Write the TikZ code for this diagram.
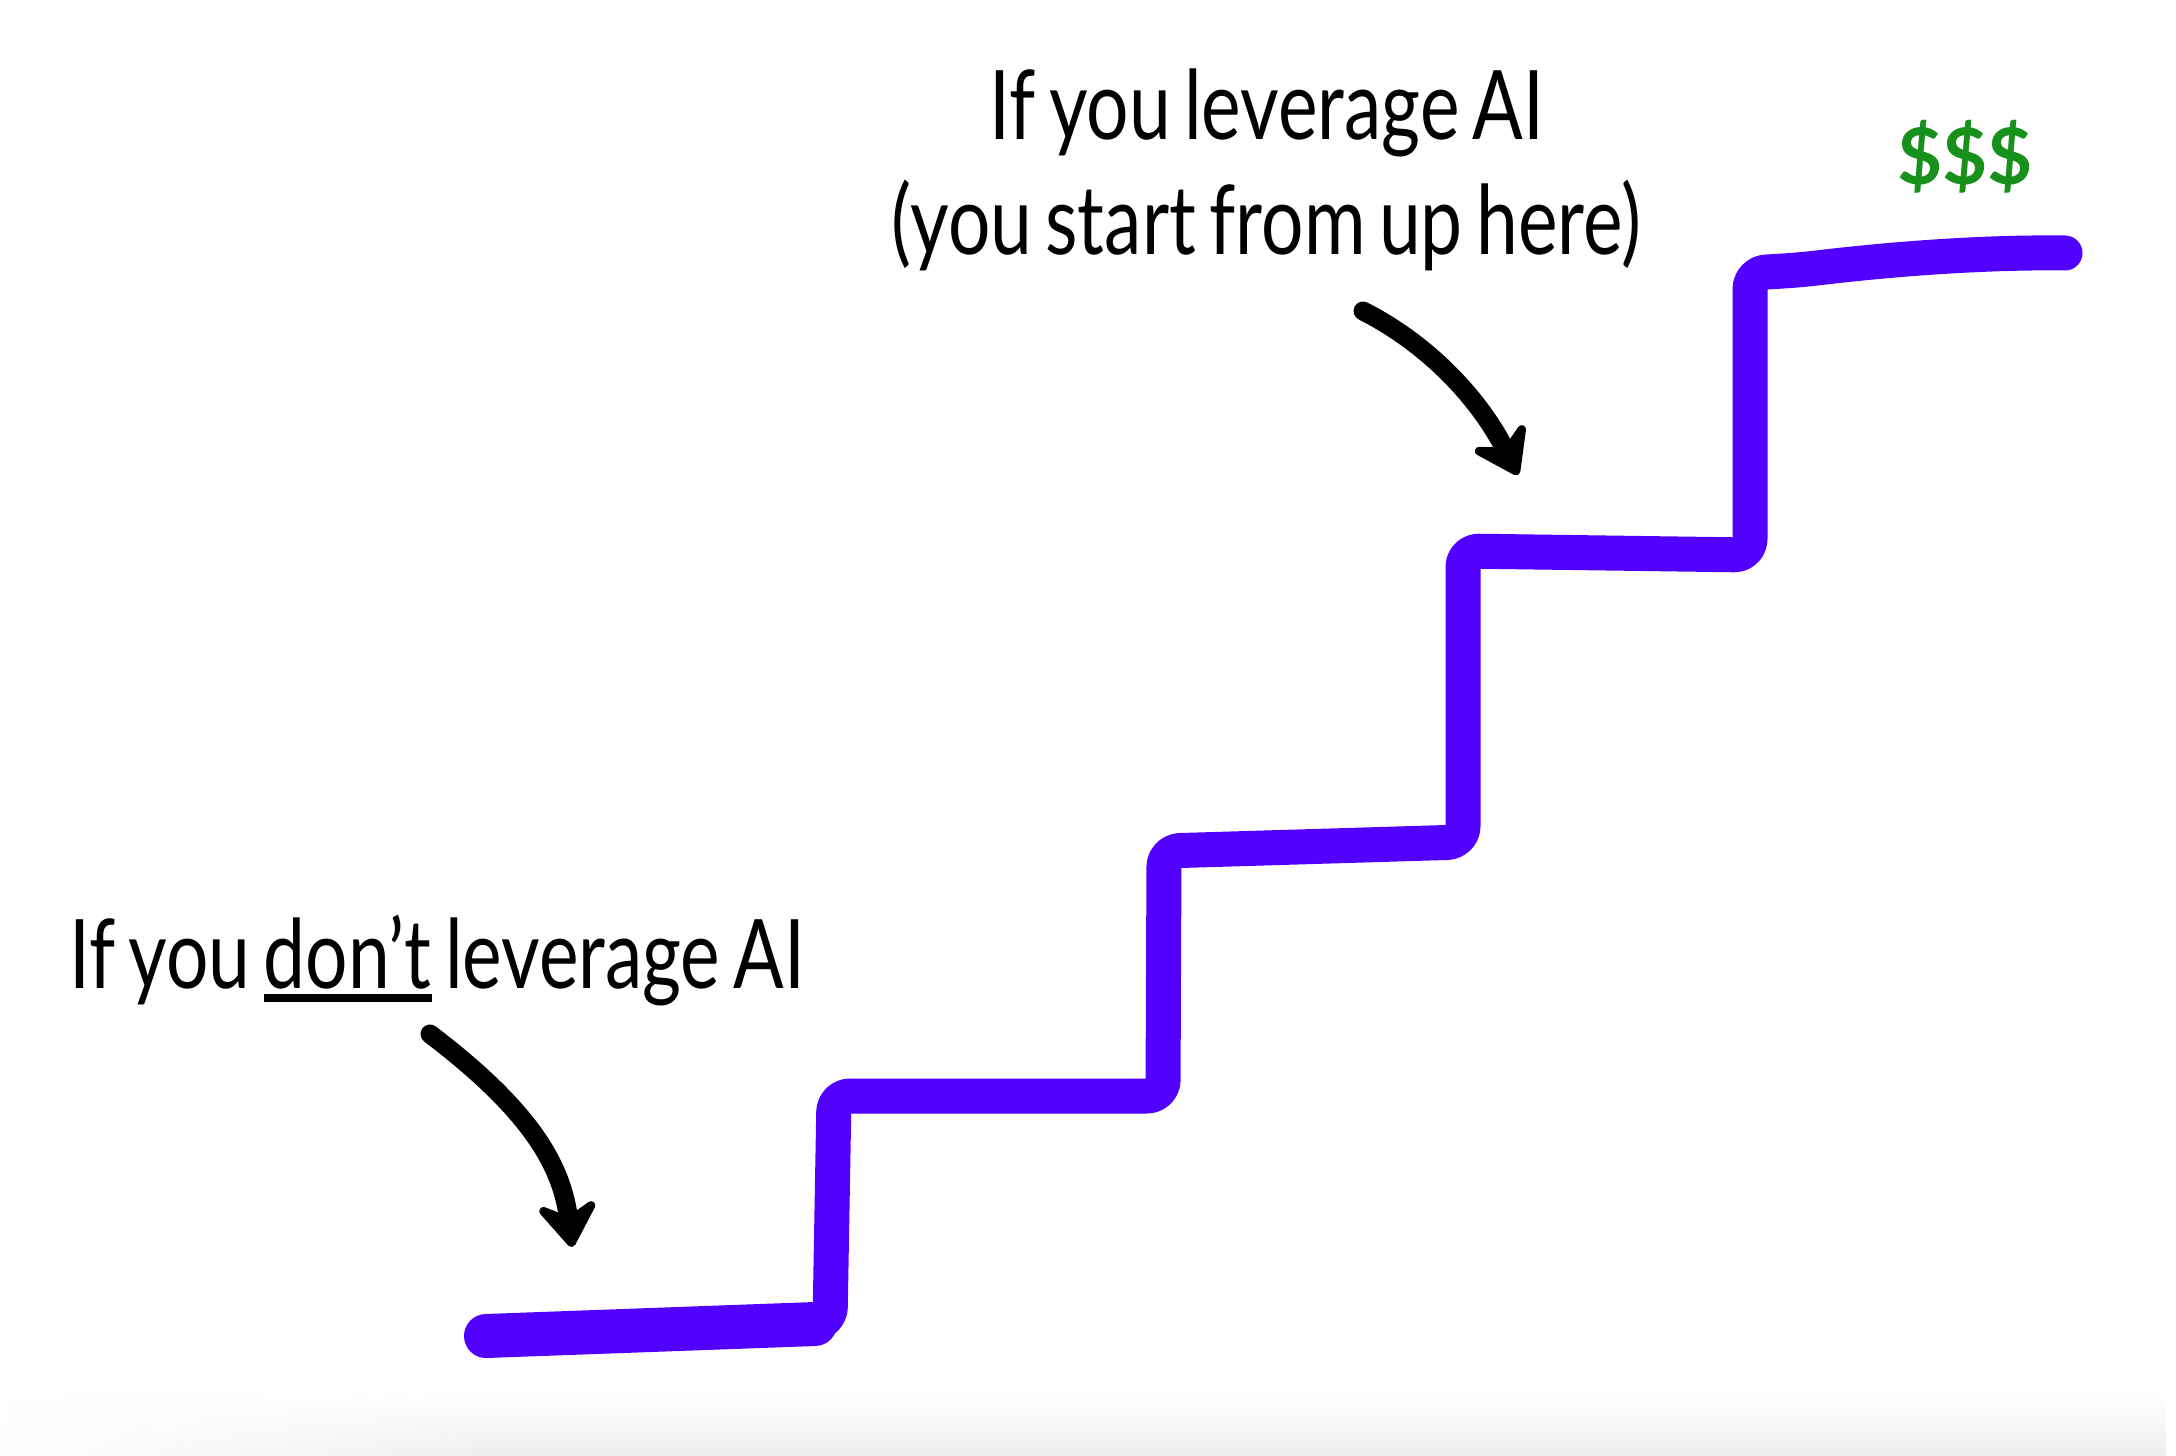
\documentclass[tikz,border=0pt]{standalone}
\usepackage{fontspec}
\setmainfont{Lato}[FakeStretch=0.78,WordSpace=0.7]
\newfontfamily\cashfont{Lato}
\usepackage{tikz}
\usetikzlibrary{arrows.meta,fadings}
\definecolor{stairline}{HTML}{5200FF}
\definecolor{cash}{HTML}{17901C}
\tikzset{
  vstair/.style={draw=stairline,line width=35pt,line cap=round,line join=round,rounded corners=16pt},
  vnote/.style={inner sep=0pt,font=\fontsize{96}{114}\selectfont},
  vpoint/.style={-{Stealth[length=54pt,width=74pt,inset=20pt,round]},line width=19pt,line cap=round,draw=black}
}
\newcommand{\notline}[1]{\setbox0\hbox{#1}\rlap{\rule[-14pt]{\wd0}{8pt}}\box0\relax}

\begin{document}
\begin{tikzpicture}[x=1pt,y=-1pt]
  \useasboundingbox (0,0) rectangle (2176,1456);
  \fill[black!7,path fading=north] (0,1392) rectangle (2176,1456);
  \fill[white,path fading=east] (0,1392) rectangle (520,1456);
  \draw[vstair] (483,1335) -- (830,1323) -- (834,1096) -- (1163,1096) -- (1164,851)
    -- (1463,842) -- (1463,551) -- (1750,555) -- (1750,273) -- (1800,270)
    .. controls (1900,258) and (1990,252) .. (2065,253);
  \draw[vstair,line width=44pt] (486,1336) -- (815,1324);
  \node[vnote,anchor=base] (lever) at (1267,139) {If you leverage AI};
  \node[vnote,anchor=base] (startup) at (1266,254) {(you start from up here)};
  \node[vnote,anchor=base west] (nolever) at (69,988) {If you \notline{don’t} leverage AI};
  \node[inner sep=0pt,text=cash,font=\cashfont\fontsize{78}{80}\selectfont\bfseries] (cash) at (1965,157) {\$\$\$};
  \coordinate (nolevertail) at (430,1034);
  \coordinate (noleverhead) at (572,1247);
  \coordinate (startuptail) at (1363,311);
  \coordinate (startuphead) at (1518,475);
  \draw[vpoint] (nolevertail) .. controls (530,1110) and (562,1165) .. (noleverhead);
  \draw[vpoint] (startuptail) .. controls (1430,345) and (1480,400) .. (startuphead);
\end{tikzpicture}
\end{document}
